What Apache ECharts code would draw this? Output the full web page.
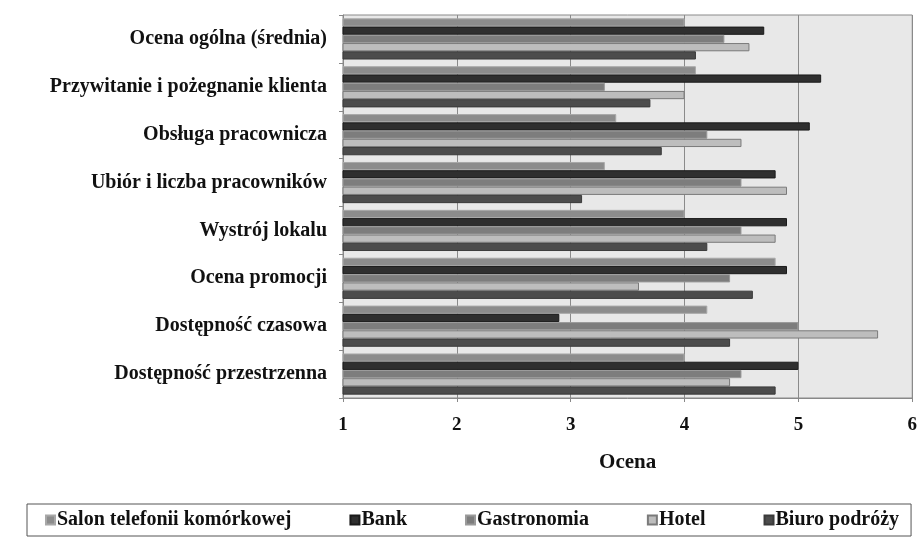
<!DOCTYPE html>
<html>
<head>
<meta charset="utf-8">
<script src="https://cdn.jsdelivr.net/npm/echarts@6/dist/echarts.min.js"></script>
<style>html,body{margin:0;padding:0;background:#fff}#c{width:920px;height:544px}</style>
</head>
<body>
<div id="c"></div>
<script>
const categories = ["Ocena ogólna (średnia)","Przywitanie i pożegnanie klienta","Obsługa pracownicza","Ubiór i liczba pracowników","Wystrój lokalu","Ocena promocji","Dostępność czasowa","Dostępność przestrzenna"];
const seriesNames = ["Salon telefonii komórkowej","Bank","Gastronomia","Hotel","Biuro podróży"];
const salon = [4.0, 4.1, 3.4, 3.3, 4.0, 4.8, 4.2, 4.0];
const bank = [4.7, 5.2, 5.1, 4.8, 4.9, 4.9, 2.9, 5.0];
const gastronomia = [4.35, 3.3, 4.2, 4.5, 4.5, 4.4, 5.0, 4.5];
const hotel = [4.57, 4.0, 4.5, 4.9, 4.8, 3.6, 5.7, 4.4];
const biuro = [4.1, 3.7, 3.8, 3.1, 4.2, 4.6, 4.4, 4.8];
const xTicks = [1, 2, 3, 4, 5, 6];

const fills = ["#8c8c8c","#2f2f2f","#7d7d7d","#bdbdbd","#4c4c4c"];
const borders = ["#a8a8a8","#1a1a1a","#9a9a9a","#7a7a7a","#3a3a3a"];
const values = [salon, bank, gastronomia, hotel, biuro];

const chart = echarts.init(document.getElementById('c'), null, {renderer:'canvas'});
const font = "'Liberation Serif', 'Times New Roman', serif";
chart.setOption({
  animation: false,
  textStyle: {fontFamily: font},
  grid: {left: 343, right: 7, top: 15, bottom: 146, show: true, backgroundColor: '#e8e8e8', borderColor: '#8a8a8a', borderWidth: 1},
  legend: {
    data: seriesNames,
    left: 27, top: 504,
    icon: 'rect', itemWidth: 9, itemHeight: 9, itemGap: 58,
    borderColor: '#555', borderWidth: 1,
    padding: [6, 12, 6, 18],
    textStyle: {fontFamily: font, fontWeight: 'bold', fontSize: 20, color: '#111', padding: [0,0,0,-3]}
  },
  xAxis: {
    type: 'value', min: xTicks[0], max: xTicks[xTicks.length-1], interval: 1,
    name: 'Ocena', nameLocation: 'middle', nameGap: 54,
    nameTextStyle: {fontFamily: font, fontWeight: 'bold', fontSize: 21, color: '#111'},
    axisLine: {show: true, lineStyle: {color: '#888'}},
    axisTick: {show: true, length: 4, lineStyle: {color: '#888'}},
    axisLabel: {fontFamily: font, fontWeight: 'bold', fontSize: 19, color: '#111', margin: 18},
    splitLine: {show: true, lineStyle: {color: '#8a8a8a', width: 1}}
  },
  yAxis: {
    type: 'category', data: categories, inverse: true,
    axisLine: {show: true, lineStyle: {color: '#888'}},
    axisTick: {show: true, length: 4, lineStyle: {color: '#888'}},
    axisLabel: {fontFamily: font, fontWeight: 'bold', fontSize: 20, color: '#111', margin: 16},
    splitLine: {show: false}
  },
  series: seriesNames.map((n, i) => ({
    name: n, type: 'bar', data: values[i],
    barGap: '0%', barCategoryGap: '14%',
    itemStyle: {color: fills[i], borderColor: borders[i], borderWidth: 1}
  }))
});
</script>
</body>
</html>
